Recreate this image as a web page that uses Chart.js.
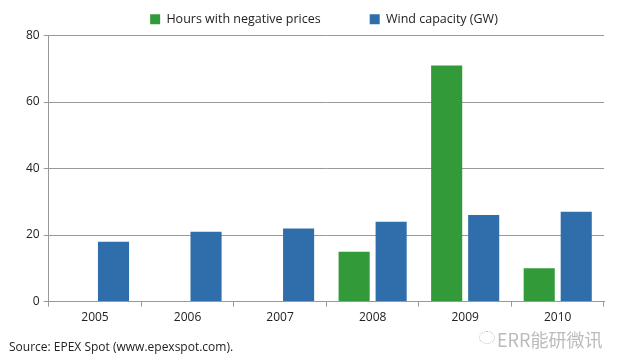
<!DOCTYPE html>
<html>
<head>
<meta charset="utf-8">
<script src="https://cdn.jsdelivr.net/npm/chart.js@4"></script>
<style>
  html, body { margin: 0; padding: 0; background: #fff; }
  #wrap { position: relative; width: 624px; height: 362px; }
  #source { position: absolute; left: 9px; top: 338px; font: 12px "Open Sans", sans-serif; color: #222; }
  #mark { position: absolute; left: 497px; top: 326px; font: 18px "Noto Sans CJK SC", sans-serif; color: #bbb; }
  #icon { position: absolute; left: 479px; top: 331px; width: 14px; height: 11px; border: 1.5px dotted #bbb; border-radius: 50%; }
</style>
</head>
<body>
<div id="wrap">
  <canvas id="chart" width="624" height="362"></canvas>
  <div id="source">Source: EPEX Spot (www.epexspot.com).</div>
  <div id="icon"></div>
  <div id="mark">ERR能研微讯</div>
</div>
<script>
var years = ['2005', '2006', '2007', '2008', '2009', '2010'];
var negativeHours = [null, null, null, 15, 71, 10];
var windCapacity = [18, 21, 22, 24, 26, 27];
var yTicks = [0, 20, 40, 60, 80];

// nudge the legend a bit to the right, like the original
var legendShift = {
   id: 'legendShift',
   afterLayout: function (chart) {
      if (chart.legend) {
         chart.legend.left += 11;
         chart.legend.right += 11;
      }
   }
};

var config = {
   type: 'bar',
   data: {
      labels: years,
      datasets: [{
         label: 'Hours with negative prices',
         data: negativeHours,
         backgroundColor: '#339a3a',
         borderWidth: 0
      }, {
         label: 'Wind capacity (GW)',
         data: windCapacity,
         backgroundColor: '#2f6eab',
         borderWidth: 0
      }]
   },
   options: {
      responsive: false,
      animation: false,
      categoryPercentage: 0.8,
      barPercentage: 0.84,
      layout: { padding: { left: 22, right: 20, top: 3, bottom: 33 } },
      plugins: {
         legend: {
            display: true,
            position: 'top',
            labels: {
               boxWidth: 10, boxHeight: 10, padding: 10,
               color: '#222',
               font: { family: 'Open Sans', size: 12.5 },
               generateLabels: function (chart) {
                  var items = Chart.defaults.plugins.legend.labels.generateLabels(chart);
                  items[0].text = items[0].text + '            ';
                  return items;
               }
            }
         },
         tooltip: { enabled: false }
      },
      scales: {
         x: {
            grid: { drawOnChartArea: false, drawTicks: true, tickLength: 5, color: '#999' },
            border: { color: '#999' },
            ticks: { color: '#222', font: { family: 'Open Sans', size: 12 }, padding: 4 }
         },
         y: {
            min: 0, max: 80,
            afterBuildTicks: function (axis) {
               axis.ticks = yTicks.map(function (v) { return { value: v }; });
            },
            grid: { color: '#999', tickLength: 5 },
            border: { color: '#999' },
            ticks: { color: '#222', font: { family: 'Open Sans', size: 12 }, padding: 4 }
         }
      }
   },
   plugins: [legendShift]
};

var ctx = document.getElementById('chart').getContext('2d');
var chart = new Chart(ctx, config);
</script>
</body>
</html>
